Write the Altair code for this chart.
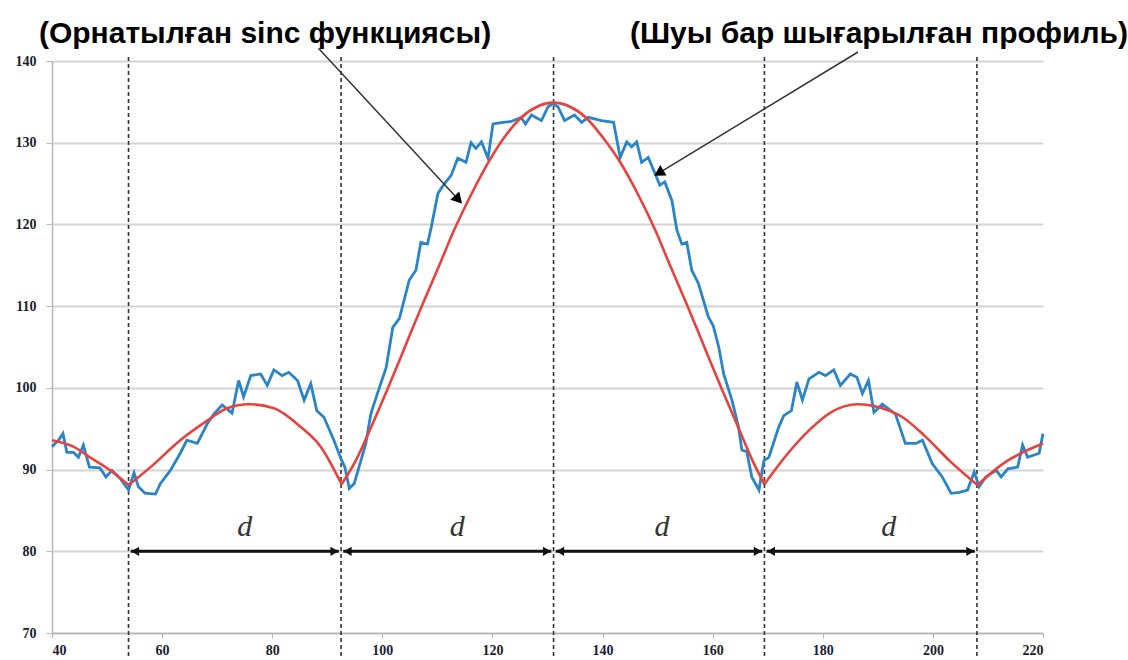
import altair as alt
import pandas as pd

# ---------------- data ----------------
blue_x = [40.0, 41.2, 42.0, 42.7, 43.9, 44.8, 45.7, 46.8, 48.7, 49.8, 50.9, 52.4, 53.9, 54.9,
          55.7, 56.9, 58.8, 59.7, 61.5, 63.3, 64.5, 66.4, 68.2, 69.4, 70.9, 72.7, 73.9, 74.8,
          76.1, 77.9, 79.1, 80.3, 81.8, 83.0, 84.6, 85.8, 87.0, 88.1, 89.4, 91.2, 92.5, 93.2,
          94.0, 94.9, 96.1, 97.0, 97.9, 99.1, 100.7, 101.9, 103.1, 104.9, 106.1, 107.0, 108.2,
          108.9, 110.1, 111.3, 112.5, 113.7, 115.2, 116.1, 117.0, 118.0, 119.2, 120.1, 121.9,
          123.4, 125.2, 126.0, 127.1, 128.9, 130.1, 131.0, 131.9, 133.1, 134.9, 136.2, 137.4,
          139.8, 142.0, 143.2, 144.4, 145.3, 146.2, 147.1, 148.3, 149.8, 150.4, 151.3, 152.6,
          153.5, 154.4, 155.3, 156.2, 157.4, 159.2, 160.1, 161.1, 162.0, 163.5, 164.7, 165.3,
          166.2, 167.1, 168.4, 169.3, 170.2, 172.0, 172.9, 174.3, 175.3, 176.3, 177.5, 179.3,
          180.5, 182.0, 183.2, 185.0, 186.2, 187.2, 188.3, 189.3, 190.8, 193.2, 195.0, 196.9,
          198.1, 199.9, 201.7, 203.3, 204.8, 206.3, 207.5, 208.4, 209.6, 211.5, 212.4, 213.6,
          215.4, 216.3, 217.2, 219.3, 220.0]
blue_y = [92.8, 93.6, 94.4, 92.1, 92.1, 91.5, 93.0, 90.3, 90.2, 89.1, 89.9, 88.9, 87.5, 89.6,
          87.9, 87.1, 87.0, 88.3, 89.9, 92.0, 93.6, 93.2, 95.6, 96.8, 97.9, 96.9, 100.9, 98.9,
          101.5, 101.7, 100.3, 102.2, 101.5, 101.9, 100.9, 98.5, 100.5, 97.2, 96.4, 93.6, 91.3,
          90.3, 87.7, 88.3, 91.1, 93.2, 96.8, 99.3, 102.5, 107.4, 108.5, 113.2, 114.4, 117.8,
          117.6, 119.7, 123.8, 125.0, 126.0, 128.1, 127.6, 130.0, 129.3, 130.1, 128.1, 132.3,
          132.5, 132.6, 133.1, 132.3, 133.4, 132.7, 134.4, 134.8, 134.4, 132.7, 133.4, 132.5,
          133.1, 132.7, 132.5, 128.2, 130.1, 129.5, 130.1, 127.6, 128.2, 125.8, 124.8, 125.2,
          122.9, 119.3, 117.6, 117.8, 114.4, 112.8, 108.7, 107.6, 105.0, 101.7, 98.5, 95.2,
          92.4, 92.2, 89.1, 87.5, 91.1, 91.5, 95.2, 96.6, 97.2, 100.7, 98.5, 101.1, 101.9,
          101.5, 102.2, 100.3, 101.7, 101.3, 99.3, 100.9, 97.0, 98.0, 96.8, 93.2, 93.2, 93.6,
          90.7, 89.1, 87.1, 87.2, 87.5, 89.7, 87.9, 89.1, 89.9, 89.1, 90.1, 90.3, 93.0, 91.5,
          92.0, 94.4]

red_x = [40.0, 43.9, 46.9, 50.6, 53.9, 57.9, 63.3, 68.2, 71.8, 75.8, 80.3, 85.2, 88.8, 92.6,
         95.1, 98.1, 101.1, 104.1, 107.1, 110.1, 113.1, 116.1, 119.1, 122.1, 125.1, 128.1,
         131.1, 134.1, 137.1, 140.1, 143.4, 146.5, 149.5, 152.5, 155.5, 158.5, 161.5, 164.5,
         167.3, 169.4, 173.2, 177.5, 181.7, 186.3, 190.8, 194.5, 198.7, 203.0, 208.1, 212.7,
         216.3, 220.0]
red_y = [93.6, 92.8, 91.5, 89.9, 88.1, 90.3, 93.6, 96.0, 97.5, 98.0, 97.5, 95.2, 92.8, 88.2,
         91.0, 95.4, 100.1, 105.0, 109.9, 114.6, 119.4, 123.6, 127.4, 130.6, 133.0, 134.4,
         134.9, 134.4, 133.0, 130.6, 127.4, 123.6, 119.4, 114.6, 109.9, 105.0, 100.1, 95.4,
         91.0, 88.2, 91.6, 94.8, 97.1, 98.0, 97.5, 96.4, 94.0, 91.1, 88.1, 90.7, 92.1, 93.2]
red_minima_x = [53.9, 92.6, 169.4, 208.1]

divider_x = [53.9, 92.5, 131.1, 169.4, 208.0]
d_label_x = [75.0, 113.6, 150.8, 192.0]
d_label_y = 83.0
dim_arrow_y = 80.0

title_left = "(Орнатылған sinc функциясы)"
title_right = "(Шуы бар шығарылған профиль)"
title_left_pos = (78.7, 143.3)
title_right_pos = (190.2, 143.3)

# annotation arrows: start (x, y), head (x, y), head angle
ann_start_x = [88.4, 186.4]
ann_start_y = [141.55, 141.1]
ann_head_x = [113.6, 150.5]
ann_head_y = [123.2, 126.4]
ann_head_angle = [137, 239]

y_ticks = [70, 80, 90, 100, 110, 120, 130, 140]
x_ticks = [40, 60, 80, 100, 120, 140, 160, 180, 200, 220]

# ---------------- tables ----------------
blue_df = pd.DataFrame({"x": blue_x, "y": blue_y})

rows = []
seg = 0
for xv, yv in zip(red_x, red_y):
    rows.append({"x": xv, "y": yv, "seg": seg})
    if xv in red_minima_x:
        seg += 1
        rows.append({"x": xv, "y": yv, "seg": seg})
red_df = pd.DataFrame(rows)

div_df = pd.DataFrame({"x": divider_x})
dim_df = pd.DataFrame({
    "x1": [divider_x[i] + 0.4 for i in range(4)],
    "x2": [divider_x[i + 1] - 0.4 for i in range(4)],
    "y": [dim_arrow_y] * 4,
})
head_df = pd.DataFrame({
    "x": [divider_x[i] + 1.2 for i in range(4)] + [divider_x[i + 1] - 1.2 for i in range(4)],
    "y": [dim_arrow_y] * 8,
    "shape": ["triangle-left"] * 4 + ["triangle-right"] * 4,
})
d_df = pd.DataFrame({"x": d_label_x, "y": [d_label_y] * 4, "t": ["d"] * 4})
titles_df = pd.DataFrame({
    "x": [title_left_pos[0], title_right_pos[0]],
    "y": [title_left_pos[1], title_right_pos[1]],
    "t": [title_left, title_right],
})
ann_df = pd.DataFrame({"x": ann_start_x, "y": ann_start_y, "x2": ann_head_x, "y2": ann_head_y})
ann_head_df = pd.DataFrame({"x": ann_head_x, "y": ann_head_y, "a": ann_head_angle})

xs = alt.Scale(domain=[40, 220], nice=False, zero=False)
ys = alt.Scale(domain=[70, 140], nice=False, zero=False)

label_color = "#1c1c30"

x_axis = alt.Axis(values=x_ticks, grid=False, title=None, labelFont="Liberation Serif",
                  labelFontWeight="bold", labelFontSize=14, labelColor=label_color,
                  domainColor="#b8b8b8", domainWidth=1.5, tickColor="#b8b8b8", tickSize=5,
                  labelPadding=5)
y_axis = alt.Axis(values=y_ticks, grid=True, gridColor="#d3d3d3", gridWidth=2, title=None,
                  labelFont="Liberation Serif", labelFontWeight="bold", labelFontSize=14,
                  labelColor=label_color, domainColor="#b8b8b8", domainWidth=1.5,
                  tickColor="#b8b8b8", tickSize=6, labelPadding=10)

base_axes = alt.Chart(blue_df).mark_line(opacity=0).encode(
    x=alt.X("x:Q", scale=xs, axis=x_axis),
    y=alt.Y("y:Q", scale=ys, axis=y_axis),
)

dividers = alt.Chart(div_df).mark_rule(color="#333333", strokeWidth=1.6, strokeDash=[4, 3]).encode(
    x=alt.X("x:Q", scale=xs), y=alt.value(-4), y2=alt.value(598)
)

blue = alt.Chart(blue_df).mark_line(color="#2a85c8", strokeWidth=2.8).encode(
    x=alt.X("x:Q", scale=xs), y=alt.Y("y:Q", scale=ys)
)

red = alt.Chart(red_df).mark_line(color="#e8423f", strokeWidth=2.6, interpolate="monotone").encode(
    x=alt.X("x:Q", scale=xs), y=alt.Y("y:Q", scale=ys), detail="seg:N"
)

dim_lines = alt.Chart(dim_df).mark_rule(color="#111111", strokeWidth=3).encode(
    x=alt.X("x1:Q", scale=xs), x2="x2:Q", y=alt.Y("y:Q", scale=ys)
)

dim_heads = alt.Chart(head_df).mark_point(filled=True, color="#111111", size=85, opacity=1).encode(
    x=alt.X("x:Q", scale=xs), y=alt.Y("y:Q", scale=ys),
    shape=alt.Shape("shape:N", scale=None, legend=None),
)

d_text = alt.Chart(d_df).mark_text(font="Liberation Serif", fontStyle="italic", fontSize=30,
                                  color="#333333").encode(
    x=alt.X("x:Q", scale=xs), y=alt.Y("y:Q", scale=ys), text="t:N"
)

titles = alt.Chart(titles_df).mark_text(font="Liberation Sans", fontWeight="bold",
                                       fontSize=30, color="#000000").encode(
    x=alt.X("x:Q", scale=xs), y=alt.Y("y:Q", scale=ys), text="t:N"
)

ann_lines = alt.Chart(ann_df).mark_rule(color="#333333", strokeWidth=1.5).encode(
    x=alt.X("x:Q", scale=xs), y=alt.Y("y:Q", scale=ys), x2="x2:Q", y2="y2:Q"
)

ann_heads = alt.Chart(ann_head_df).mark_point(shape="triangle", filled=True, color="#000000",
                                              size=150, opacity=1).encode(
    x=alt.X("x:Q", scale=xs), y=alt.Y("y:Q", scale=ys), angle=alt.Angle("a:Q", scale=None)
)

chart = alt.layer(
    base_axes, dividers, blue, red, dim_lines, dim_heads, d_text, ann_lines, ann_heads, titles
).properties(
    width=991, height=572,
    autosize=alt.AutoSizeParams(type="none"),
    padding={"left": 52, "top": 61, "right": 85, "bottom": 27},
    background="white",
).configure_view(stroke=None)

chart.save("out.html", embed_options={"renderer": "svg", "actions": False})
